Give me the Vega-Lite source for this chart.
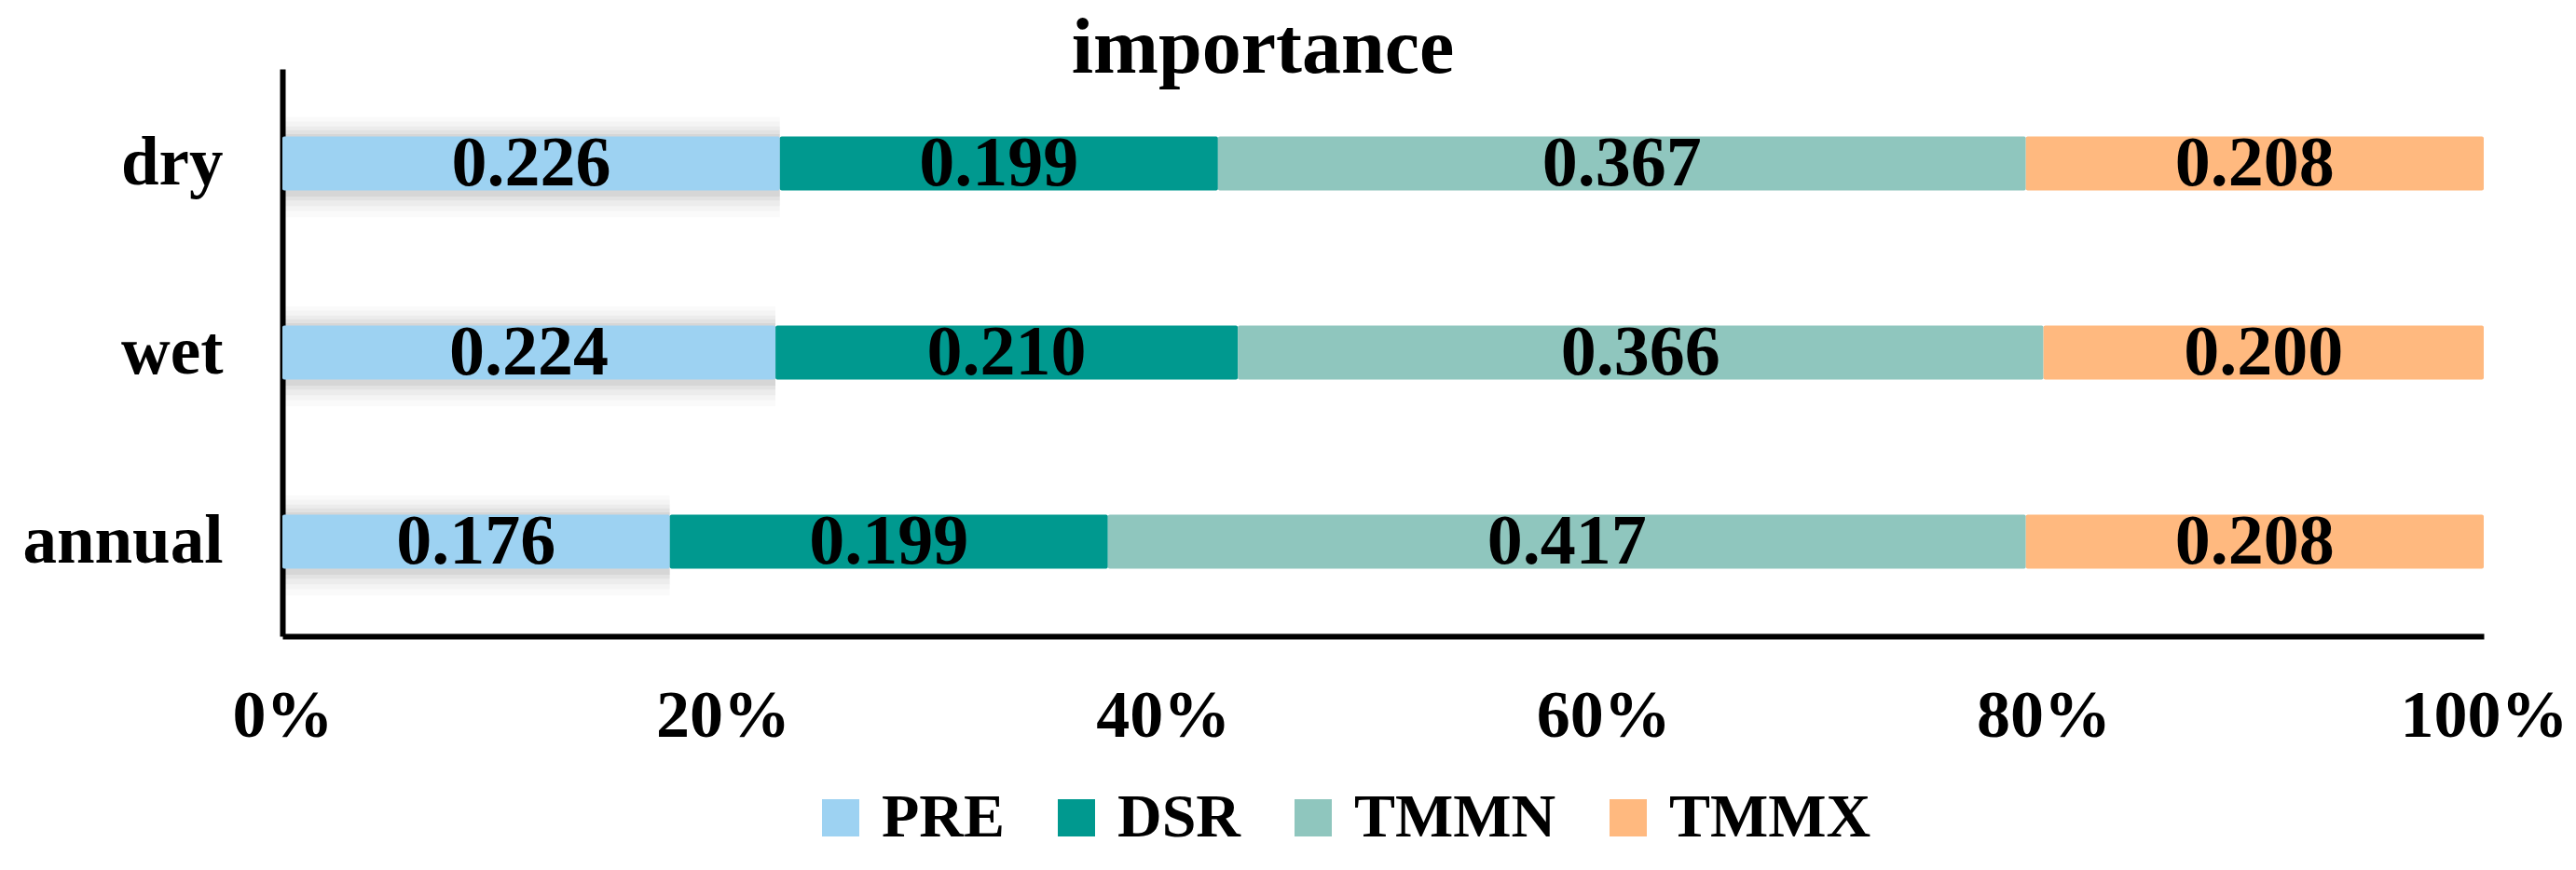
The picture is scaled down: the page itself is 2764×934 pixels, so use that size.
{
  "$schema": "https://vega.github.io/schema/vega-lite/v6.json",
  "width": 2362,
  "height": 609,
  "autosize": {"type": "none"},
  "padding": {"left": 303, "top": 74, "right": 99, "bottom": 251},
  "background": "white",
  "title": {
    "text": "importance",
    "font": "Liberation Serif",
    "fontSize": 84,
    "fontWeight": "bold",
    "color": "black",
    "anchor": "middle",
    "dx": -129,
    "baseline": "alphabetic",
    "offset": -88
  },
  "config": {
    "view": {"stroke": null},
    "legend": {
      "orient": "none",
      "legendX": 566,
      "legendY": 771,
      "direction": "horizontal",
      "symbolType": "square",
      "symbolSize": 1600,
      "symbolStrokeWidth": 0,
      "symbolOpacity": 1,
      "labelFont": "Liberation Serif",
      "labelFontWeight": "bold",
      "labelFontSize": 66,
      "labelColor": "black",
      "labelOffset": 11,
      "labelLimit": 0,
      "columnPadding": 44,
      "padding": 0,
      "title": null
    }
  },
  "data": {
    "values": [
      {"season": "dry", "variable": "PRE", "k": 1, "value": 0.226},
      {"season": "dry", "variable": "DSR", "k": 2, "value": 0.199},
      {"season": "dry", "variable": "TMMN", "k": 3, "value": 0.367},
      {"season": "dry", "variable": "TMMX", "k": 4, "value": 0.208},
      {"season": "wet", "variable": "PRE", "k": 1, "value": 0.224},
      {"season": "wet", "variable": "DSR", "k": 2, "value": 0.210},
      {"season": "wet", "variable": "TMMN", "k": 3, "value": 0.366},
      {"season": "wet", "variable": "TMMX", "k": 4, "value": 0.200},
      {"season": "annual", "variable": "PRE", "k": 1, "value": 0.176},
      {"season": "annual", "variable": "DSR", "k": 2, "value": 0.199},
      {"season": "annual", "variable": "TMMN", "k": 3, "value": 0.417},
      {"season": "annual", "variable": "TMMX", "k": 4, "value": 0.208}
    ]
  },
  "transform": [
    {"stack": "value", "groupby": ["season"], "sort": [{"field": "k", "order": "ascending"}], "as": ["x0", "x1"]}
  ],
  "encoding": {
    "y": {
      "field": "season",
      "type": "nominal",
      "sort": ["dry", "wet", "annual"],
      "scale": {"paddingInner": 0.714, "paddingOuter": 0.357},
      "axis": {
        "title": null,
        "domain": true,
        "domainColor": "black",
        "domainWidth": 6,
        "ticks": false,
        "tickSize": 0,
        "grid": false,
        "labelFont": "Liberation Serif",
        "labelFontWeight": "bold",
        "labelFontSize": 73,
        "labelColor": "black",
        "labelLimit": 0,
        "labelPadding": 64
      }
    }
  },
  "layer": [
    {
      "transform": [{"filter": "datum.variable == 'PRE'"}],
      "mark": {"type": "bar", "color": "#000000", "opacity": 0.02, "height": {"band": 1.85}, "yOffset": 4},
      "encoding": {
        "x": {"field": "x0", "type": "quantitative", "scale": {"domain": [0, 1], "nice": false}},
        "x2": {"field": "x1"}
      }
    },
    {
      "transform": [{"filter": "datum.variable == 'PRE'"}],
      "mark": {"type": "bar", "color": "#000000", "opacity": 0.025, "height": {"band": 1.65}, "yOffset": 3},
      "encoding": {
        "x": {"field": "x0", "type": "quantitative"},
        "x2": {"field": "x1"}
      }
    },
    {
      "transform": [{"filter": "datum.variable == 'PRE'"}],
      "mark": {"type": "bar", "color": "#000000", "opacity": 0.03, "height": {"band": 1.47}, "yOffset": 3},
      "encoding": {
        "x": {"field": "x0", "type": "quantitative"},
        "x2": {"field": "x1"}
      }
    },
    {
      "transform": [{"filter": "datum.variable == 'PRE'"}],
      "mark": {"type": "bar", "color": "#000000", "opacity": 0.04, "height": {"band": 1.3}, "yOffset": 2},
      "encoding": {
        "x": {"field": "x0", "type": "quantitative"},
        "x2": {"field": "x1"}
      }
    },
    {
      "transform": [{"filter": "datum.variable == 'PRE'"}],
      "mark": {"type": "bar", "color": "#000000", "opacity": 0.05, "height": {"band": 1.15}, "yOffset": 2},
      "encoding": {
        "x": {"field": "x0", "type": "quantitative"},
        "x2": {"field": "x1"}
      }
    },
    {
      "mark": {"type": "bar", "cornerRadius": 2},
      "encoding": {
        "x": {
          "field": "x0",
          "type": "quantitative",
          "scale": {"domain": [0, 1], "nice": false},
          "axis": {
            "title": null,
            "format": ".0%",
            "values": [0, 0.2, 0.4, 0.6, 0.8, 1],
            "domain": true,
            "domainColor": "black",
            "domainWidth": 6,
            "ticks": false,
            "tickSize": 0,
            "grid": false,
            "labelFlush": false,
            "labelLimit": 0,
            "labelFont": "Liberation Serif",
            "labelFontWeight": "bold",
            "labelFontSize": 72,
            "labelColor": "black",
            "labelPadding": 50
          }
        },
        "x2": {"field": "x1"},
        "color": {
          "field": "variable",
          "type": "nominal",
          "scale": {
            "domain": ["PRE", "DSR", "TMMN", "TMMX"],
            "range": ["#9DD2F2", "#00998F", "#8FC6BE", "#FFB97F"]
          },
          "legend": {}
        }
      }
    },
    {
      "transform": [
        {"fold": ["x0", "x1"], "as": ["edge", "pos"]},
        {"aggregate": [{"op": "mean", "field": "pos", "as": "mid"}], "groupby": ["season", "variable", "value"]}
      ],
      "mark": {
        "type": "text",
        "font": "Liberation Serif",
        "fontWeight": "bold",
        "fontSize": 76,
        "color": "black",
        "baseline": "middle",
        "align": "center"
      },
      "encoding": {
        "x": {"field": "mid", "type": "quantitative"},
        "text": {"field": "value", "type": "quantitative", "format": ".3f"}
      }
    }
  ]
}
